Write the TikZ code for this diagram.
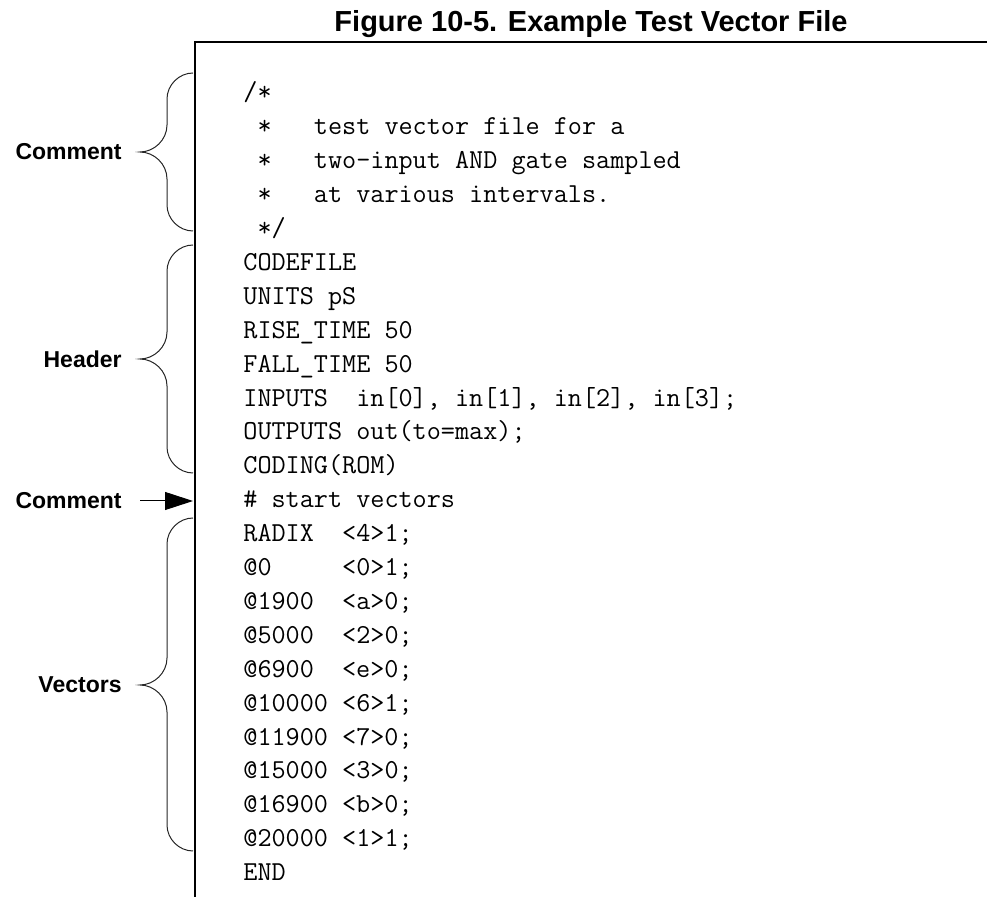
\documentclass[tikz,border=0pt]{standalone}
\usepackage{fontspec}
\setmainfont{Liberation Sans}
\usetikzlibrary{arrows.meta}

\tikzset{
    codeline/.style={anchor=base west, inner sep=0pt, font=\ttfamily\fontsize{13.7}{16}\selectfont},
    sidelabel/.style={anchor=east, inner sep=0pt, font=\bfseries\fontsize{11.5}{13}\selectfont},
    figtitle/.style={anchor=base, inner sep=0pt, font=\bfseries\fontsize{14.5}{17}\selectfont},
    bracket/.style={line width=0.5pt, black!85},
}

% curly bracket: top y, tip y, bottom y
\newcommand{\codebrace}[3]{%
    \draw[bracket] (193,#1) .. controls (179,#1) and (167,#1+12) .. (167,#1+26)
        -- (167,#2-27) .. controls (167,#2-12) and (154,#2) .. (140,#2)
        .. controls (154,#2) and (167,#2+12) .. (167,#2+27)
        -- (167,#3-26) .. controls (167,#3-12) and (179,#3) .. (193,#3);}

\begin{document}
\begin{tikzpicture}[x=0.5pt, y=-0.5pt]
    \useasboundingbox (0,0) rectangle (987,897);

    % Title
    \node[figtitle] (ttl) at (591,32) {Figure 10-5. Example Test Vector File};

    % Frame of the file
    \draw[line width=1pt] (987,42) -- (195,42) -- (195,897);

    % File lines
    \foreach \txt [count=\i] in {
        {/*},
        {\ *\ \ \ test vector file for a},
        {\ *\ \ \ two-input AND gate sampled},
        {\ *\ \ \ at various intervals.},
        {\ */},
        {CODEFILE},
        {UNITS pS},
        {RISE\_TIME 50},
        {FALL\_TIME 50},
        {INPUTS\ \ in[0], in[1], in[2], in[3];},
        {OUTPUTS out(to=max);},
        {CODING(ROM)},
        {\# start vectors},
        {RADIX\ \ <4>1;},
        {@0\ \ \ \ \ <0>1;},
        {@1900\ \ <a>0;},
        {@5000\ \ <2>0;},
        {@6900\ \ <e>0;},
        {@10000 <6>1;},
        {@11900 <7>0;},
        {@15000 <3>0;},
        {@16900 <b>0;},
        {@20000 <1>1;},
        {END}}
        \node[codeline] (line\i) at (243,{101+(\i-1)*33.9}) {\txt};

    % Side labels
    \node[sidelabel] (cmt) at (122,152) {Comment};
    \node[sidelabel] (hdr) at (122,359) {Header};
    \node[sidelabel] (cmtb) at (122,501) {Comment};
    \node[sidelabel] (vec) at (122,685) {Vectors};

    % Brackets
    \codebrace{73}{152}{231}
    \codebrace{245}{359}{473}
    \codebrace{518}{685}{851}

    % Arrow to the single comment line
    \coordinate (cmtarrow) at (193,501);
    \draw[line width=0.5pt, -{Triangle[length=14pt, width=9pt]}] ([xshift=9pt]cmtb.east) -- (cmtarrow);
\end{tikzpicture}
\end{document}
